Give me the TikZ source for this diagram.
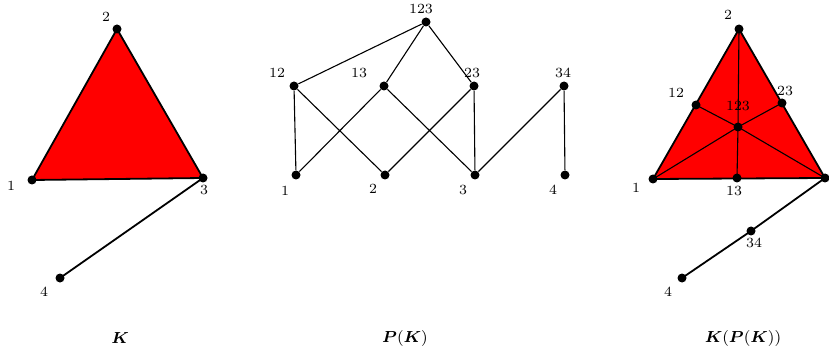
\documentclass[tikz,border=0pt]{standalone}
\usepackage{bm}
\begin{document}
\begin{tikzpicture}[x=0.5pt,y=-0.5pt,
  vtx/.style={circle,fill=black,inner sep=0pt,minimum size=4.5pt},
  lbl/.style={inner sep=0pt,font=\scriptsize},
  captxt/.style={inner sep=0pt,font=\footnotesize},
  edge/.style={line width=0.55pt},
  tri/.style={fill=red,draw=black,line width=0.9pt,line join=round}]
\useasboundingbox (0,0) rectangle (829,352);
% ---- K ----
\coordinate (a1) at (32,180);
\coordinate (a2) at (117,29);
\coordinate (a3) at (203,178);
\coordinate (a4) at (60,278);
\filldraw[tri] (a1) -- (a2) -- (a3) -- cycle;
\draw[line width=0.9pt] (a3) -- (a4);
\foreach \n in {a1,a2,a3,a4} \node[vtx] (v\n) at (\n) {};
\node[lbl] (la2) at (106,17) {2};
\node[lbl] (la1) at (11,186) {1};
\node[lbl] (la3) at (204,190) {3};
\node[lbl] (la4) at (44,292) {4};
\node[captxt] (ck) at (120,338) {$\bm{K}$};
% ---- P(K) ----
\node[vtx] (p123) at (426,22) {};
\node[vtx] (p12) at (294,86) {};
\node[vtx] (p13) at (384,86) {};
\node[vtx] (p23) at (474,86) {};
\node[vtx] (p34) at (564,86) {};
\node[vtx] (p1) at (296,175) {};
\node[vtx] (p2) at (385,175) {};
\node[vtx] (p3) at (475,175) {};
\node[vtx] (p4) at (565,175) {};
\draw[edge] (p123) -- (p12);
\draw[edge] (p123) -- (p13);
\draw[edge] (p123) -- (p23);
\draw[edge] (p12) -- (p1);
\draw[edge] (p12) -- (p2);
\draw[edge] (p13) -- (p1);
\draw[edge] (p13) -- (p3);
\draw[edge] (p23) -- (p2);
\draw[edge] (p23) -- (p3);
\draw[edge] (p34) -- (p3);
\draw[edge] (p34) -- (p4);
\node[lbl] (lp123) at (421,9) {123};
\node[lbl] (lp12) at (277,73) {12};
\node[lbl] (lp13) at (359,73) {13};
\node[lbl] (lp23) at (472,73) {23};
\node[lbl] (lp34) at (563,73) {34};
\node[lbl] (lp1) at (285,191) {1};
\node[lbl] (lp2) at (373,189) {2};
\node[lbl] (lp3) at (463,190) {3};
\node[lbl] (lp4) at (553,190) {4};
\node[captxt] (cp) at (405,338) {$\bm{P}(\bm{K})$};
% ---- K(P(K)) ----
\coordinate (b1) at (653,179);
\coordinate (b2) at (739,29);
\coordinate (b3) at (825,178);
\coordinate (b12) at (696,105);
\coordinate (b23) at (782,103);
\coordinate (b13) at (737,178);
\coordinate (b123) at (738,127);
\coordinate (b34) at (751,231);
\coordinate (b4) at (682,278);
\filldraw[tri] (b1) -- (b2) -- (b3) -- cycle;
\draw[edge] (b2) -- (b123) -- (b13);
\draw[edge] (b12) -- (b123) -- (b3);
\draw[edge] (b1) -- (b123) -- (b23);
\draw[line width=0.9pt] (b3) -- (b34) -- (b4);
\foreach \n in {b1,b2,b3,b12,b23,b13,b123,b34,b4} \node[vtx] (v\n) at (\n) {};
\node[lbl] (lb2) at (728,15) {2};
\node[lbl] (lb1) at (636,188) {1};
\node[lbl] (lb12) at (676,93) {12};
\node[lbl] (lb23) at (785,91) {23};
\node[lbl] (lb123) at (738,106) {123};
\node[lbl] (lb13) at (734,191) {13};
\node[lbl] (lb34) at (754,243) {34};
\node[lbl] (lb4) at (668,292) {4};
\node[captxt] (ckp) at (743,338) {$\bm{K}(\bm{P}(\bm{K}))$};
\end{tikzpicture}
\end{document}
